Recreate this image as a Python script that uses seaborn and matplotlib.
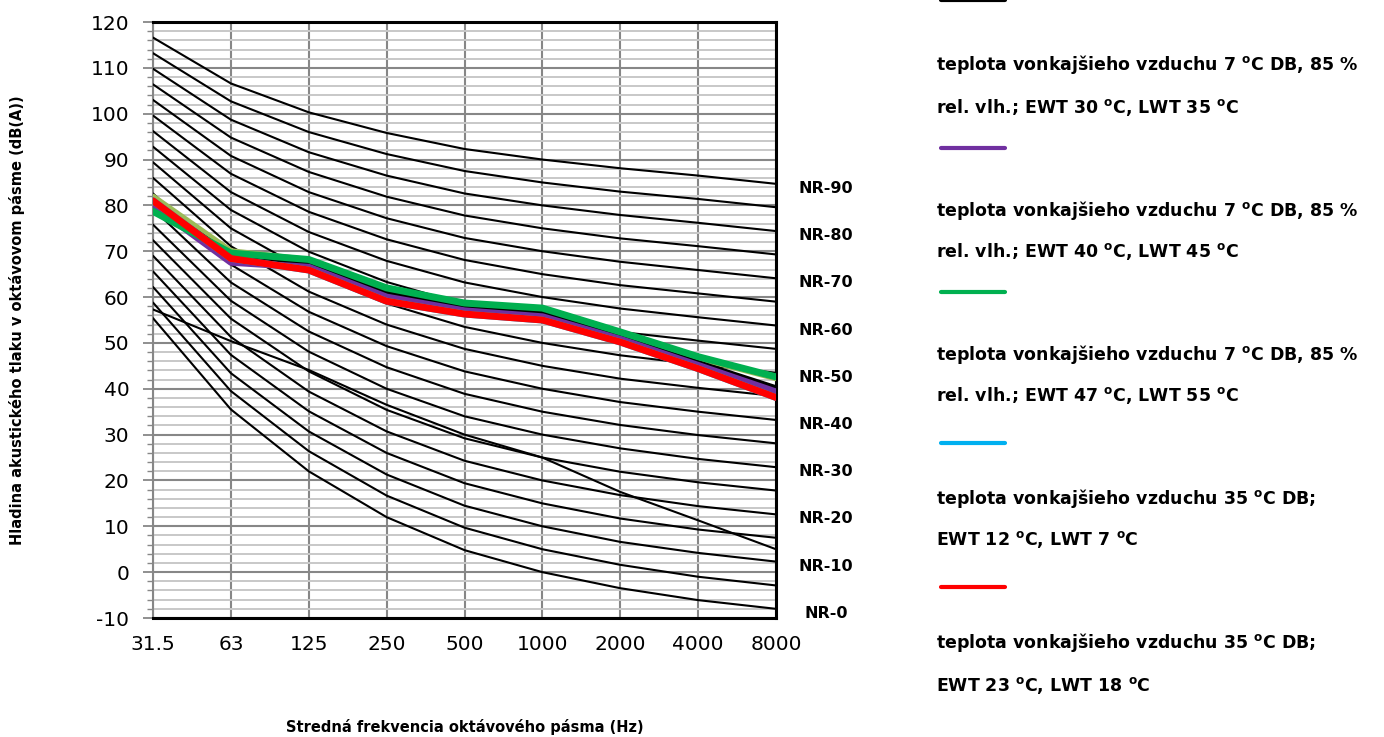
import matplotlib
matplotlib.use("Agg")
import matplotlib.pyplot as plt
from matplotlib.lines import Line2D
from matplotlib.ticker import MultipleLocator
import seaborn as sns
import pandas as pd

# ---------------- data ----------------
freqs = ["31.5", "63", "125", "250", "500", "1000", "2000", "4000", "8000"]

nr_levels = [0, 5, 10, 15, 20, 25, 30, 35, 40, 45, 50, 55, 60, 65, 70, 75, 80, 85, 90]
nr_values = [
    [55.4, 35.5, 22.0, 12.0, 4.8, 0.0, -3.5, -6.1, -8.0],
    [58.8, 39.5, 26.4, 16.7, 9.7, 5.0, 1.6, -1.0, -2.9],
    [62.2, 43.4, 30.7, 21.3, 14.5, 10.0, 6.6, 4.2, 2.3],
    [65.6, 47.4, 35.1, 26.0, 19.4, 15.0, 11.7, 9.3, 7.5],
    [69.0, 51.3, 39.4, 30.7, 24.3, 20.0, 16.8, 14.4, 12.6],
    [72.4, 55.3, 43.8, 35.4, 29.2, 25.0, 21.9, 19.6, 17.8],
    [75.8, 59.2, 48.1, 40.0, 34.0, 30.0, 27.0, 24.7, 22.9],
    [79.2, 63.2, 52.5, 44.7, 38.9, 35.0, 32.1, 29.9, 28.1],
    [82.6, 67.1, 56.8, 49.3, 43.8, 40.0, 37.1, 35.0, 33.2],
    [86.0, 71.1, 61.2, 54.0, 48.7, 45.0, 42.2, 40.2, 38.4],
    [89.4, 75.0, 65.5, 58.6, 53.5, 50.0, 47.3, 45.3, 43.5],
    [92.8, 79.0, 69.9, 63.3, 58.4, 55.0, 52.4, 50.5, 48.7],
    [96.2, 82.9, 74.2, 67.9, 63.2, 60.0, 57.5, 55.6, 53.8],
    [99.6, 86.9, 78.6, 72.6, 68.1, 65.0, 62.6, 60.8, 59.0],
    [103.0, 90.8, 82.9, 77.2, 72.9, 70.0, 67.7, 65.9, 64.1],
    [106.4, 94.8, 87.3, 81.9, 77.8, 75.0, 72.8, 71.1, 69.3],
    [109.8, 98.7, 91.6, 86.5, 82.6, 80.0, 77.9, 76.2, 74.4],
    [113.2, 102.7, 96.0, 91.2, 87.5, 85.0, 83.0, 81.4, 79.6],
    [116.6, 106.6, 100.3, 95.8, 92.3, 90.0, 88.1, 86.5, 84.7],
]

cross_curve = [57.3, 50.4, 44.1, 36.5, 30.0, 25.0, 17.5, 11.3, 5.0]

olive_series = [81.8, 69.9, 68.0, 61.8, 58.5, 57.4, 52.2, 46.8, 42.4]
series_black = [80.5, 68.8, 67.0, 60.9, 57.6, 56.3, 51.0, 45.5, 40.0]
series_purple = [80.0, 67.6, 66.5, 60.0, 57.0, 55.7, 50.8, 45.1, 39.3]
series_cyan = [81.0, 68.4, 65.9, 59.1, 56.3, 55.0, 50.2, 44.4, 38.1]
series_green = [78.7, 69.6, 68.2, 62.0, 58.7, 57.6, 52.4, 47.0, 42.6]
series_red = [81.0, 68.4, 65.9, 59.1, 56.3, 55.0, 50.2, 44.4, 38.1]

DEG = r"$^{\mathbf{o}}$"
legend_labels = [
    [f"teplota vonkajšieho vzduchu 7 {DEG}C DB, 85 %", f"rel. vlh.; EWT 30 {DEG}C, LWT 35 {DEG}C"],
    [f"teplota vonkajšieho vzduchu 7 {DEG}C DB, 85 %", f"rel. vlh.; EWT 40 {DEG}C, LWT 45 {DEG}C"],
    [f"teplota vonkajšieho vzduchu 7 {DEG}C DB, 85 %", f"rel. vlh.; EWT 47 {DEG}C, LWT 55 {DEG}C"],
    [f"teplota vonkajšieho vzduchu 35 {DEG}C DB;", f"EWT 12 {DEG}C, LWT 7 {DEG}C"],
    [f"teplota vonkajšieho vzduchu 35 {DEG}C DB;", f"EWT 23 {DEG}C, LWT 18 {DEG}C"],
]
legend_colors = ["#000000", "#7030A0", "#00B050", "#00B0F0", "#FF0000"]

x_label = "Stredná frekvencia oktávového pásma (Hz)"
y_label = "Hladina akustického tlaku v oktávovom pásme (dB(A))"

# ---------------- figure ----------------
sns.set_theme(style="white")
plt.rcParams["font.family"] = ["DejaVu Sans"]
plt.rcParams["text.color"] = "black"
plt.rcParams["axes.labelcolor"] = "black"
plt.rcParams["xtick.color"] = "black"
plt.rcParams["ytick.color"] = "black"
plt.rcParams["axes.unicode_minus"] = False
plt.rcParams["mathtext.fontset"] = "dejavusans"

fig = plt.figure(figsize=(13.84, 7.37), dpi=100)
ax = fig.add_axes([153 / 1384, 1 - 618 / 737, 623 / 1384, 596 / 737])

pos = list(range(len(freqs)))

rows = []
for lvl, vals in zip(nr_levels, nr_values):
    for p, v in zip(pos, vals):
        rows.append({"pos": p, "db": v, "curve": f"NR-{lvl}"})
nr_df = pd.DataFrame(rows)

sns.lineplot(data=nr_df, x="pos", y="db", units="curve", estimator=None,
             color="black", linewidth=1.5, ax=ax, legend=False, zorder=3)
sns.lineplot(x=pos, y=cross_curve, color="black", linewidth=1.5, ax=ax,
             legend=False, zorder=3)

sns.lineplot(x=pos, y=olive_series, color="#9BBB59", linewidth=5, ax=ax, legend=False, zorder=4)
series_list = [series_black, series_purple, series_cyan, series_green, series_red]
series_cols = ["#000000", "#7030A0", "#00B0F0", "#00B050", "#FF0000"]
for vals, col in zip(series_list, series_cols):
    sns.lineplot(x=pos, y=vals, color=col, linewidth=5, ax=ax, legend=False, zorder=5)

# axes styling
ax.set_xlim(0, len(freqs) - 1)
ax.set_ylim(-10, 120)
ax.set_xticks(pos)
ax.set_xticklabels(freqs)
ax.yaxis.set_major_locator(MultipleLocator(10))
ax.yaxis.set_minor_locator(MultipleLocator(2))
ax.set_axisbelow(True)
ax.grid(which="minor", axis="y", color="#C8C8C8", linewidth=1.4, zorder=0)
ax.grid(which="major", axis="y", color="#878787", linewidth=1.5, zorder=1)
ax.grid(which="major", axis="x", color="#878787", linewidth=1.5, zorder=1)

ax.tick_params(axis="y", which="major", length=7, width=1.3, color="#878787",
               labelsize=14.5, pad=10, left=True, labelcolor="black")
ax.tick_params(axis="y", which="minor", length=4, width=1.0, color="#878787", left=True)
ax.tick_params(axis="x", which="major", length=0, labelsize=14.5, pad=12, labelcolor="black")

for side in ["top", "right", "bottom"]:
    ax.spines[side].set_color("black")
    ax.spines[side].set_linewidth(2.2)
ax.spines["left"].set_color("#878787")
ax.spines["left"].set_linewidth(1.5)

ax.set_xlabel(x_label, fontsize=10.5, fontweight="bold", va="center")
ax.set_ylabel(y_label, fontsize=10.5, fontweight="bold", va="center")
ax.xaxis.set_label_coords(0.5, (618 - 727) / 596)
ax.yaxis.set_label_coords((17 - 153) / 623, 0.5)

# NR labels at right
for lvl, vals in zip(nr_levels, nr_values):
    if lvl % 10 == 0:
        ax.text(8.64, vals[-1] - 1.0, f"NR-{lvl}", ha="center", va="center",
                fontsize=11.5, fontweight="bold", clip_on=False)

# manual legend (line sample above its text)
line_y = [0, 148, 292, 443, 587]
text_y = [(65, 108), (210, 252), (355, 395), (498, 540), (643, 686)]
W, H = 1384, 737
for ly, (t1, t2), lab, col in zip(line_y, text_y, legend_labels, legend_colors):
    fig.add_artist(Line2D([941 / W, 1005 / W], [1 - ly / H, 1 - ly / H],
                          color=col, linewidth=3, transform=fig.transFigure))
    fig.text(936 / W, 1 - t1 / H, lab[0], ha="left", va="center",
             fontsize=12.5, fontweight="bold")
    fig.text(936 / W, 1 - t2 / H, lab[1], ha="left", va="center",
             fontsize=12.5, fontweight="bold")

fig.savefig("out.png", dpi=100)
